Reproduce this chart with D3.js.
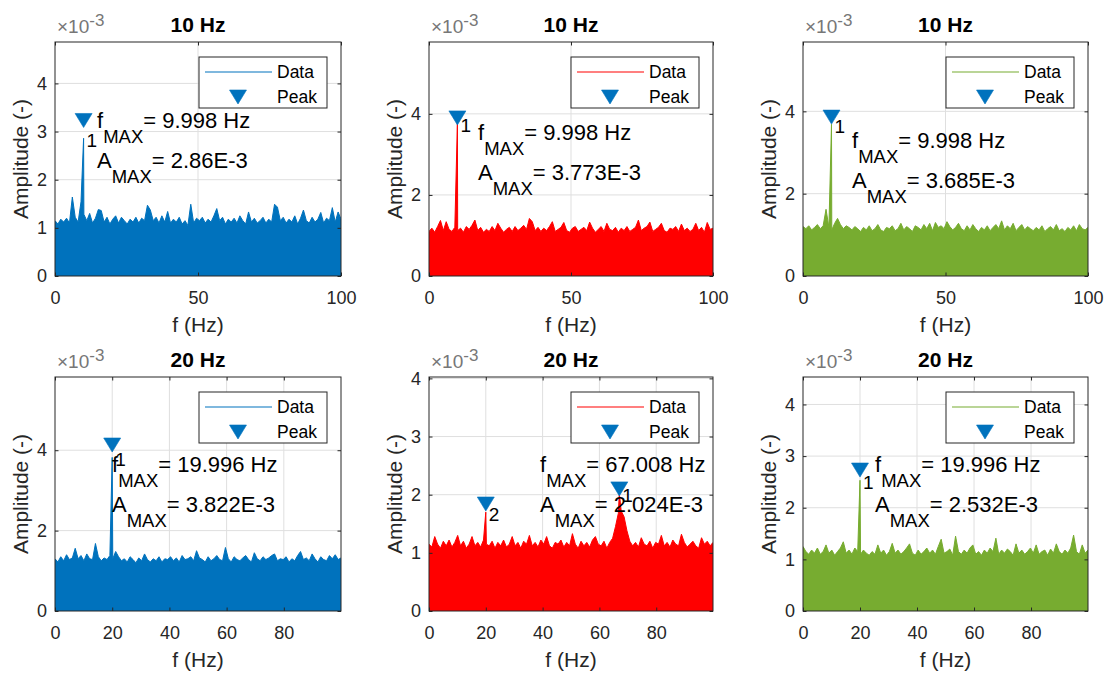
<!DOCTYPE html>
<html><head><meta charset="utf-8">
<script src="https://cdn.jsdelivr.net/npm/d3@7"></script>
<style>
body{margin:0;background:#fff}
svg{display:block}
text{font-family:"Liberation Sans",Arial,Helvetica,sans-serif}
</style>
</head><body>
<svg id="chart" width="1105" height="673"></svg>
<script>
// ---------------- DATA ----------------
const titles = ["10 Hz","10 Hz","10 Hz","20 Hz","20 Hz","20 Hz"];
const seriesColors = ["#0072BD","#FF0000","#77AC30","#0072BD","#FF0000","#77AC30"];
const freqMax = [100, 100, 100, 99.99, 99.99, 99.99];
const xTicks10 = [0, 50, 100];
const xTicks20 = [0, 20, 40, 60, 80];
const yTicksA = [0, 1, 2, 3, 4];
const yTicksB = [0, 2, 4];
const yMax = [4.86, 5.773, 5.685, 5.822, 4.024, 4.532]; // x 1e-3

// noise envelope, one value per ~1 Hz bin (x 1e-3)
const noise1 = [1.15,1.08,1.18,1.12,1.20,1.10,1.64,1.22,1.12,1.54, 1.28,1.15,1.30,1.10,1.20,1.38,1.36,1.12,1.22,1.08,
  1.18,1.25,1.10,1.22,1.15,1.08,1.18,1.12,1.22,1.10, 1.20,1.15,1.47,1.37,1.15,1.22,1.10,1.25,1.12,1.34,
  1.10,1.18,1.12,1.22,1.08,1.15,1.05,1.49,1.10,1.20, 1.15,1.22,1.10,1.18,1.12,1.25,1.40,1.15,1.22,1.08,
  1.18,1.12,1.20,1.10,1.25,1.15,1.08,1.33,1.12,1.20, 1.10,1.15,1.22,1.10,1.18,1.12,1.49,1.43,1.15,1.22,
  1.10,1.18,1.12,1.25,1.08,1.20,1.37,1.15,1.10,1.22, 1.12,1.18,1.32,1.10,1.20,1.15,1.42,1.12,1.33,1.18];
const noise2 = [1.10,1.18,1.08,1.22,1.37,1.12,1.34,1.15,1.10,1.20, 1.12,1.18,1.08,1.22,1.15,1.25,1.38,1.12,1.20,1.08,
  1.15,1.10,1.22,1.12,1.30,1.18,1.08,1.15,1.20,1.10, 1.22,1.12,1.18,1.25,1.15,1.42,1.34,1.12,1.20,1.10,
  1.18,1.12,1.22,1.34,1.10,1.15,1.20,1.32,1.12,1.08, 1.18,1.22,1.10,1.15,1.20,1.12,1.33,1.18,1.08,1.15,
  1.22,1.10,1.30,1.15,1.12,1.20,1.08,1.18,1.12,1.22, 1.10,1.15,1.20,1.38,1.12,1.18,1.22,1.33,1.10,1.15,
  1.20,1.30,1.12,1.08,1.18,1.15,1.22,1.10,1.28,1.12, 1.18,1.10,1.15,1.30,1.12,1.20,1.08,1.32,1.15,1.18];
const noise3 = [1.20,1.15,1.22,1.12,1.18,1.25,1.15,1.22,1.62,1.18, 1.12,1.28,1.40,1.25,1.15,1.22,1.18,1.12,1.20,1.15,
  1.08,1.18,1.12,1.22,1.10,1.15,1.25,1.12,1.08,1.18, 1.15,1.22,1.10,1.15,1.28,1.12,1.20,1.15,1.08,1.22,
  1.18,1.12,1.25,1.15,1.28,1.10,1.30,1.18,1.22,1.15, 1.32,1.20,1.12,1.18,1.28,1.15,1.10,1.22,1.12,1.25,
  1.15,1.08,1.18,1.12,1.22,1.10,1.18,1.25,1.15,1.34, 1.12,1.22,1.15,1.28,1.10,1.18,1.25,1.12,1.20,1.15,
  1.10,1.18,1.12,1.22,1.08,1.15,1.20,1.12,1.25,1.10, 1.15,1.08,1.18,1.12,1.22,1.10,1.25,1.15,1.12,1.18];
const noise4 = [1.30,1.22,1.35,1.25,1.40,1.28,1.32,1.56,1.30,1.38, 1.25,1.42,1.30,1.28,1.68,1.35,1.25,1.32,1.28,1.38,
  1.30,1.48,1.35,1.25,1.30,1.22,1.35,1.28,1.20,1.32, 1.25,1.42,1.28,1.22,1.30,1.25,1.35,1.22,1.30,1.28,
  1.35,1.25,1.32,1.22,1.38,1.28,1.30,1.35,1.25,1.50, 1.32,1.28,1.22,1.35,1.25,1.30,1.38,1.28,1.25,1.58,
  1.30,1.22,1.35,1.28,1.25,1.32,1.38,1.28,1.22,1.45, 1.30,1.25,1.35,1.28,1.32,1.38,1.42,1.25,1.30,1.28,
  1.35,1.22,1.30,1.25,1.38,1.48,1.28,1.32,1.25,1.42, 1.30,1.22,1.35,1.28,1.25,1.38,1.30,1.40,1.28,1.32];
const noise5 = [1.15,1.10,1.28,1.15,1.08,1.20,1.12,1.22,1.10,1.18, 1.30,1.12,1.20,1.08,1.15,1.28,1.12,1.18,1.10,1.22,
  1.15,1.12,1.20,1.08,1.18,1.12,1.22,1.10,1.15,1.28, 1.12,1.18,1.08,1.20,1.15,1.30,1.12,1.18,1.10,1.22,
  1.15,1.28,1.12,1.08,1.18,1.15,1.22,1.10,1.18,1.12, 1.33,1.15,1.08,1.20,1.12,1.18,1.10,1.22,1.28,1.15,
  1.12,1.20,1.08,1.18,1.25,1.45,1.68,1.72,1.62,1.38, 1.20,1.12,1.18,1.10,1.26,1.15,1.12,1.20,1.08,1.18,
  1.15,1.30,1.12,1.18,1.10,1.22,1.15,1.12,1.32,1.18, 1.10,1.15,1.20,1.12,1.08,1.26,1.15,1.20,1.12,1.18];
const noise6 = [1.25,1.15,1.10,1.18,1.12,1.22,1.10,1.15,1.28,1.12, 1.18,1.08,1.15,1.22,1.34,1.12,1.18,1.10,1.22,1.15,
  1.10,1.18,1.12,1.08,1.15,1.10,1.28,1.12,1.18,1.08, 1.15,1.31,1.12,1.18,1.10,1.15,1.22,1.30,1.12,1.08,
  1.18,1.10,1.15,1.22,1.12,1.18,1.10,1.25,1.39,1.12, 1.15,1.20,1.08,1.45,1.15,1.10,1.18,1.12,1.22,1.28,
  1.10,1.15,1.08,1.18,1.12,1.22,1.15,1.41,1.10,1.18, 1.12,1.20,1.15,1.08,1.30,1.12,1.18,1.10,1.15,1.22,
  1.12,1.28,1.10,1.15,1.18,1.08,1.20,1.12,1.30,1.15, 1.10,1.18,1.12,1.22,1.47,1.15,1.10,1.28,1.12,1.18];
const noiseSets = [noise1, noise2, noise3, noise4, noise5, noise6];

// detected peaks (Hz, x 1e-3), marker heights and labels
const peakFreqs = [[9.998],[9.998],[9.998],[19.996],[67.008,19.996],[19.996]];
const peakAmps  = [[2.86],[3.773],[3.685],[3.822],[2.024,1.70],[2.532]];
const markerAmps = [[3.23],[3.90],[3.86],[4.13],[2.10,1.84],[2.73]];
const peakLabels = [["1"],["1"],["1"],["1"],["1","2"],["1"]];
const fMaxText = ["9.998 Hz","9.998 Hz","9.998 Hz","19.996 Hz","67.008 Hz","19.996 Hz"];
const aMaxText = ["2.86E-3","3.773E-3","3.685E-3","3.822E-3","2.024E-3","2.532E-3"];
const legendLabels = ["Data","Peak"];

// ---------------- LAYOUT ----------------
const colLeft = [55, 429, 803], colWidth = [286, 284, 285];
const rowTop = [42, 377], rowHeight = 234;
const annotPos = [[42,86],[49,98],[49,106],[57,95],[111,95],[72,95]]; // px in axes
const peakBlue = "#0072BD";
const axisColor = "#262626";
const FONT_TICK = 18, FONT_LABEL = 21, FONT_TITLE = 21, FONT_ANNOT = 22, FONT_SUB = 18.5;

const svg = d3.select("#chart");

function triPath(cx, cy){ return `M${cx-8.5},${cy-7}L${cx+8.5},${cy-7}L${cx},${cy+7}Z`; }

for (let p = 0; p < 6; p++){
  const col = p % 3, row = Math.floor(p/3);
  const L = colLeft[col], T = rowTop[row], W = colWidth[col], H = rowHeight;
  const g = svg.append("g").attr("transform", `translate(${L},${T})`);
  const x = d3.scaleLinear().domain([0, freqMax[p]]).range([0, W]);
  const y = d3.scaleLinear().domain([0, yMax[p]]).range([H, 0]);
  const xt = row === 0 ? xTicks10 : xTicks20;
  const yt = (p === 0 || p === 4 || p === 5) ? yTicksA : yTicksB;

  // grid
  const grid = g.append("g");
  xt.forEach(v => { if (v > 0 && v < freqMax[p]) grid.append("line").attr("x1", x(v)).attr("x2", x(v)).attr("y1", 0).attr("y2", H).attr("stroke", "#dfdfdf").attr("stroke-width", 1); });
  yt.forEach(v => { if (v > 0 && v < yMax[p]) grid.append("line").attr("x1", 0).attr("x2", W).attr("y1", y(v)).attr("y2", y(v)).attr("stroke", "#dfdfdf").attr("stroke-width", 1); });

  // data series
  const noise = noiseSets[p];
  const step = freqMax[p] / (noise.length - 1);
  let pts = noise.map((v, i) => ({f: i * step, a: v}));
  peakFreqs[p].forEach((f, k) => pts.push({f: f, a: peakAmps[p][k]}));
  pts.sort((a, b) => a.f - b.f);
  const clipId = "clip" + p;
  g.append("clipPath").attr("id", clipId).append("rect").attr("width", W).attr("height", H);
  const dg = g.append("g").attr("clip-path", `url(#${clipId})`);
  dg.append("path").datum(pts)
    .attr("d", d3.area().x(d => x(d.f)).y0(y(0)).y1(d => y(d.a)))
    .attr("fill", seriesColors[p]);
  dg.append("path").datum(pts)
    .attr("d", d3.line().x(d => x(d.f)).y(d => y(d.a)))
    .attr("fill", "none").attr("stroke", seriesColors[p]).attr("stroke-width", 1);

  // markers and labels
  peakFreqs[p].forEach((f, k) => {
    g.append("path").attr("d", triPath(x(f), y(markerAmps[p][k]))).attr("fill", peakBlue).attr("stroke", peakBlue).attr("stroke-width", 0.6);
    g.append("text").attr("x", x(f) + 3).attr("y", y(peakAmps[p][k]) + 9)
      .attr("font-size", 19).attr("fill", "#000").text(peakLabels[p][k]);
  });

  // axes
  const axB = d3.axisBottom(x).tickValues(xt).tickSize(-3.5).tickPadding(15.5);
  const axL = d3.axisLeft(y).tickValues(yt).tickSize(-3.5).tickPadding(8).tickFormat(d3.format("d"));
  const axT = d3.axisTop(x).tickValues(xt).tickSize(-3.5).tickFormat("");
  const axR = d3.axisRight(y).tickValues(yt).tickSize(-3.5).tickFormat("");
  const gb = g.append("g").attr("transform", `translate(0,${H})`).call(axB);
  const gl = g.append("g").call(axL);
  const gt = g.append("g").call(axT);
  const gr = g.append("g").attr("transform", `translate(${W},0)`).call(axR);
  [gb, gl, gt, gr].forEach(a => {
    a.select(".domain").remove();
    a.selectAll("line").attr("stroke", axisColor);
    a.selectAll("text").attr("fill", axisColor).attr("font-size", FONT_TICK).attr("font-family", '"Liberation Sans",Arial,sans-serif');
  });
  g.append("rect").attr("width", W).attr("height", H).attr("fill", "none").attr("stroke", axisColor).attr("stroke-width", 1);

  // exponent label
  const ex = g.append("text").attr("x", 2).attr("y", -9).attr("fill", "#777").attr("font-size", 19);
  ex.append("tspan").text("\u00d710");
  ex.append("tspan").attr("dy", -7).attr("font-size", 17).text("-3");

  // title
  g.append("text").attr("x", W/2).attr("y", -10).attr("text-anchor", "middle")
    .attr("font-size", FONT_TITLE).attr("font-weight", "bold").attr("fill", "#000").text(titles[p]);
  // axis labels
  g.append("text").attr("x", W/2).attr("y", H + 56).attr("text-anchor", "middle")
    .attr("font-size", FONT_LABEL).attr("fill", axisColor).text("f (Hz)");
  g.append("text").attr("transform", `translate(-27,${H/2}) rotate(-90)`).attr("text-anchor", "middle")
    .attr("font-size", FONT_LABEL).attr("fill", axisColor).text("Amplitude (-)");

  // annotation text
  const [ax0, ay0] = annotPos[p];
  const t1 = g.append("text").attr("x", ax0).attr("y", ay0).attr("font-size", FONT_ANNOT).attr("fill", "#000");
  t1.append("tspan").text("f");
  t1.append("tspan").attr("dy", 15).attr("font-size", FONT_SUB).text("MAX");
  t1.append("tspan").attr("dy", -15).text("= " + fMaxText[p]);
  const t2 = g.append("text").attr("x", ax0).attr("y", ay0 + 40).attr("font-size", FONT_ANNOT).attr("fill", "#000");
  t2.append("tspan").text("A");
  t2.append("tspan").attr("dy", 15).attr("font-size", FONT_SUB).text("MAX");
  t2.append("tspan").attr("dy", -15).text("= " + aMaxText[p]);

  // legend
  const lw = 128, lh = 51, lx = W - 14 - lw, ly = 15;
  const lg = g.append("g").attr("transform", `translate(${lx},${ly})`);
  lg.append("rect").attr("width", lw).attr("height", lh).attr("fill", "#fff").attr("stroke", axisColor).attr("stroke-width", 1);
  lg.append("line").attr("x1", 6).attr("x2", 73).attr("y1", 15).attr("y2", 15).attr("stroke", seriesColors[p]).attr("stroke-width", 1.2);
  lg.append("text").attr("x", 78).attr("y", 21).attr("font-size", 17.5).attr("fill", "#000").text(legendLabels[0]);
  lg.append("path").attr("d", triPath(39, 40)).attr("fill", peakBlue).attr("stroke", peakBlue).attr("stroke-width", 0.6);
  lg.append("text").attr("x", 78).attr("y", 46).attr("font-size", 17.5).attr("fill", "#000").text(legendLabels[1]);
}
</script>
</body></html>
